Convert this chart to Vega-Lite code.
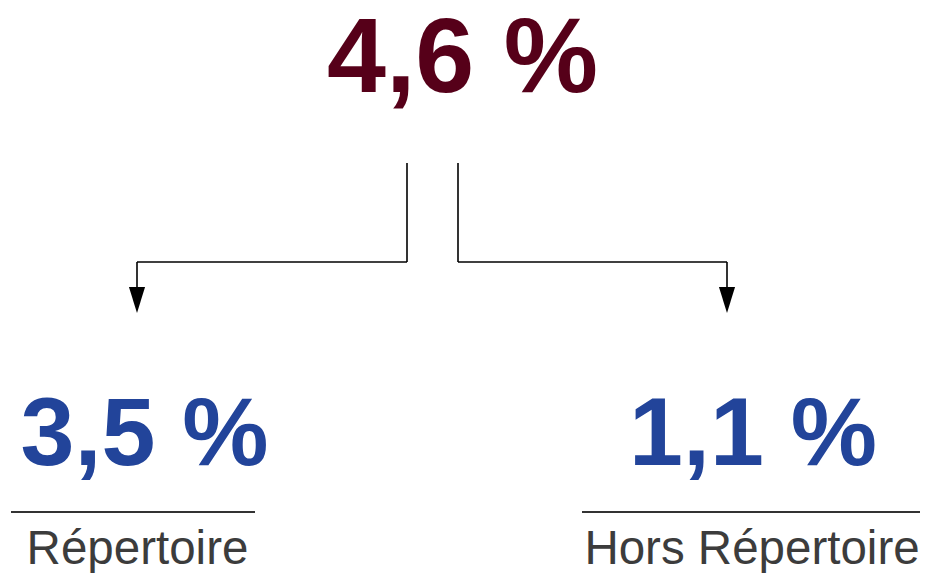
{
  "$schema": "https://vega.github.io/schema/vega-lite/v6.json",
  "width": 930,
  "height": 573,
  "autosize": "none",
  "padding": 0,
  "background": "white",
  "config": {"view": {"stroke": null}},
  "datasets": {
    "texts": [
      {"label": "4,6 %", "x": 462.5, "y": 92, "level": "total"},
      {"label": "3,5 %", "x": 144.5, "y": 465, "level": "part"},
      {"label": "1,1 %", "x": 753, "y": 465, "level": "part"},
      {"label": "Répertoire", "x": 137.5, "y": 564, "level": "name"},
      {"label": "Hors Répertoire", "x": 752, "y": 564, "level": "name"}
    ],
    "segments": [
      {"x": 407, "y": 163, "x2": 407, "y2": 262},
      {"x": 407, "y": 262, "x2": 137, "y2": 262},
      {"x": 137, "y": 262, "x2": 137, "y2": 292},
      {"x": 458, "y": 163, "x2": 458, "y2": 262},
      {"x": 458, "y": 262, "x2": 727, "y2": 262},
      {"x": 727, "y": 262, "x2": 727, "y2": 292}
    ],
    "arrows": [
      {"x": 137, "y": 300},
      {"x": 727, "y": 300}
    ],
    "underlines": [
      {"x": 11, "y": 512, "x2": 255, "y2": 512},
      {"x": 582, "y": 512, "x2": 920, "y2": 512}
    ]
  },
  "encoding": {
    "x": {"field": "x", "type": "quantitative", "scale": {"domain": [0, 930]}, "axis": null},
    "y": {"field": "y", "type": "quantitative", "scale": {"domain": [0, 573], "reverse": true}, "axis": null}
  },
  "layer": [
    {
      "data": {"name": "segments"},
      "mark": {"type": "rule", "stroke": "#000000", "strokeWidth": 1.6},
      "encoding": {"x2": {"field": "x2"}, "y2": {"field": "y2"}}
    },
    {
      "data": {"name": "arrows"},
      "mark": {"type": "point", "shape": "M -0.62 -1 L 0.62 -1 L 0 1 Z", "size": 676, "filled": true, "fill": "#000000", "opacity": 1, "strokeWidth": 0},
      "encoding": {}
    },
    {
      "data": {"name": "underlines"},
      "mark": {"type": "rule", "stroke": "#333333", "strokeWidth": 2},
      "encoding": {"x2": {"field": "x2"}, "y2": {"field": "y2"}}
    },
    {
      "data": {"name": "texts"},
      "transform": [{"filter": "datum.level === 'total'"}],
      "mark": {"type": "text", "font": "Liberation Sans", "fontWeight": "bold", "fontSize": 106, "fill": "#560019", "align": "center", "baseline": "alphabetic"},
      "encoding": {"text": {"field": "label"}}
    },
    {
      "data": {"name": "texts"},
      "transform": [{"filter": "datum.level === 'part'"}],
      "mark": {"type": "text", "font": "Liberation Sans", "fontWeight": "bold", "fontSize": 97, "fill": "#22449a", "align": "center", "baseline": "alphabetic"},
      "encoding": {"text": {"field": "label"}}
    },
    {
      "data": {"name": "texts"},
      "transform": [{"filter": "datum.level === 'name'"}],
      "mark": {"type": "text", "font": "Liberation Sans", "fontSize": 47.5, "fill": "#3c3c3c", "align": "center", "baseline": "alphabetic"},
      "encoding": {"text": {"field": "label"}}
    }
  ]
}
